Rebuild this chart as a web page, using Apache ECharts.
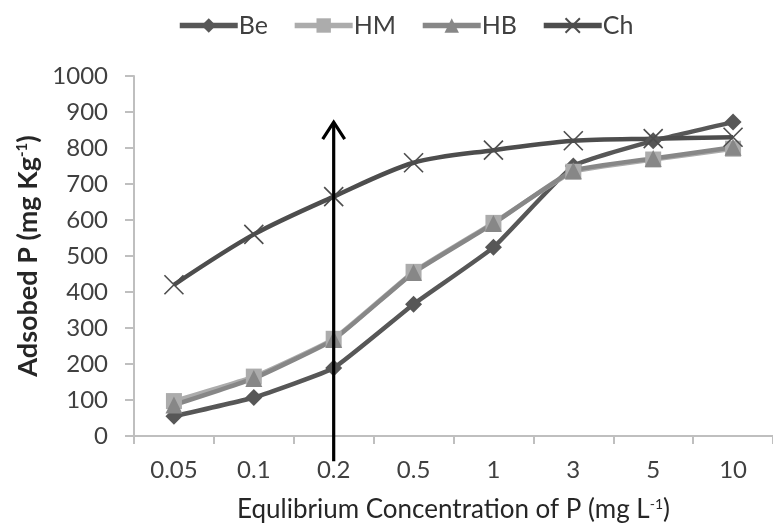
<!DOCTYPE html>
<html>
<head>
<meta charset="utf-8">
<script src="https://cdn.jsdelivr.net/npm/echarts@6/dist/echarts.min.js"></script>
<style>html,body{margin:0;padding:0;background:#fff;}#c{width:773px;height:531px;}</style>
</head>
<body>
<div id="c"></div>
<script>
const categories = ['0.05', '0.1', '0.2', '0.5', '1', '3', '5', '10'];
const beValues = [55, 107, 189, 366, 524, 750, 820, 872];
const hmValues = [97, 165, 270, 456, 592, 734, 768, 798];
const hbValues = [86, 160, 268, 454, 590, 737, 771, 802];
const chValues = [420, 560, 665, 759, 794, 820, 826, 830];
const yTicks = { min: 0, max: 1000, interval: 100 };
const arrowCategory = '0.2';
const arrowRange = [-70, 872];

const FONT = 'Lato';
const chart = echarts.init(document.getElementById('c'), null, { renderer: 'canvas' });

const crossPath = 'path://M0,0L10,10M10,0L0,10';

function lineSeries(name, data, color, symbol, size, smooth, extra) {
  return Object.assign({
    name: name,
    type: 'line',
    data: data,
    smooth: smooth,
    symbol: symbol,
    symbolSize: size,
    showSymbol: true,
    lineStyle: { color: color, width: 4.5 },
    itemStyle: { color: color },
    emphasis: { disabled: true },
    animation: false
  }, extra || {});
}

chart.setOption({
  animation: false,
  backgroundColor: '#ffffff',
  textStyle: { fontFamily: FONT },
  legend: {
    top: 8,
    left: 172,
    itemWidth: 58,
    itemHeight: 18,
    itemGap: 24,
    lineStyle: { width: 5.5 },
    textStyle: { fontFamily: FONT, fontSize: 25, color: '#404040', padding: [0, 0, 0, -4] },
    data: ['Be', 'HM', 'HB', 'Ch']
  },
  grid: { left: 134, top: 76, height: 360, width: 648, containLabel: false },
  xAxis: {
    type: 'category',
    data: categories,
    boundaryGap: true,
    name: 'Equlibrium Concentration of P (mg L{sup|-1})',
    nameLocation: 'middle',
    nameGap: 61,
    nameTextStyle: {
      fontFamily: FONT, fontSize: 26, color: '#262626', verticalAlign: 'top',
      rich: { sup: { fontFamily: FONT, fontSize: 14, color: '#262626', verticalAlign: 'top', padding: [0, 0, 9, 0] } }
    },
    axisLine: { lineStyle: { color: '#bfbfbf', width: 2 } },
    axisTick: { show: true, alignWithLabel: false, length: 8, lineStyle: { color: '#bfbfbf', width: 2 } },
    axisLabel: { fontFamily: FONT, fontSize: 24, color: '#404040', margin: 22 },
    splitLine: { show: false }
  },
  yAxis: {
    type: 'value',
    min: yTicks.min,
    max: yTicks.max,
    interval: yTicks.interval,
    name: 'Adsobed P (mg Kg{sup|-1})',
    nameLocation: 'middle',
    nameGap: 92,
    nameTextStyle: {
      fontFamily: FONT, fontSize: 27, fontWeight: 'bold', color: '#262626',
      rich: { sup: { fontFamily: FONT, fontSize: 15, fontWeight: 'bold', color: '#262626', verticalAlign: 'top', padding: [0, 0, 9, 0] } }
    },
    axisLine: { show: true, lineStyle: { color: '#bfbfbf', width: 2 } },
    axisTick: { show: true, length: 9, lineStyle: { color: '#bfbfbf', width: 2 } },
    axisLabel: { fontFamily: FONT, fontSize: 24, color: '#404040', margin: 26, formatter: function (v) { return String(v); } },
    splitLine: { show: false }
  },
  series: [
    lineSeries('Be', beValues, '#575757', 'diamond', 17, 0.12),
    lineSeries('HM', hmValues, '#acacac', 'rect', 16, 0.12),
    lineSeries('HB', hbValues, '#878787', 'triangle', 17, 0.12),
    lineSeries('Ch', chValues, '#4d4d4d', crossPath, 19, 0.3, {
      itemStyle: { color: '#4d4d4d', borderColor: '#4d4d4d', borderWidth: 1.6 }
    })
  ]
});

// Annotation arrow, positioned through the chart's own scales
const pTop = chart.convertToPixel({ xAxisIndex: 0, yAxisIndex: 0 }, [arrowCategory, arrowRange[1]]);
const pBot = chart.convertToPixel({ xAxisIndex: 0, yAxisIndex: 0 }, [arrowCategory, arrowRange[0]]);
chart.setOption({
  graphic: [
    {
      type: 'polyline', z: 100,
      shape: { points: [[pTop[0], pBot[1]], [pTop[0], pTop[1] + 2]] },
      style: { stroke: '#000', lineWidth: 3.2, fill: null }
    },
    {
      type: 'polyline', z: 100,
      shape: { points: [[pTop[0] - 11, pTop[1] + 17], [pTop[0], pTop[1]], [pTop[0] + 11, pTop[1] + 17]] },
      style: { stroke: '#000', lineWidth: 3.2, fill: null, lineJoin: 'miter' }
    }
  ]
});
</script>
</body>
</html>
